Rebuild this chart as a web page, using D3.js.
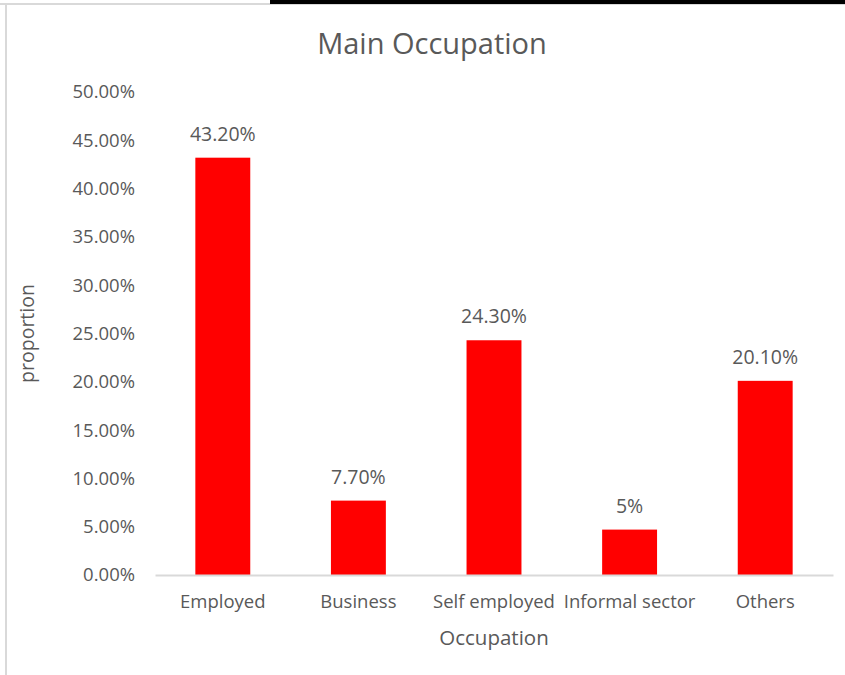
<!DOCTYPE html>
<html>
<head>
<meta charset="utf-8">
<script src="https://cdn.jsdelivr.net/npm/d3@7"></script>
<style>
  body { margin: 0; background: #fff; }
  text { font-family: "Open Sans", sans-serif; fill: #595959; }
</style>
</head>
<body>
<div id="chart"></div>
<script>
// chart data
const categories = ["Employed", "Business", "Self employed", "Informal sector", "Others"];
const values = [0.432, 0.077, 0.243, 0.047, 0.201];
const valueLabels = ["43.20%", "7.70%", "24.30%", "5%", "20.10%"];
const yTicks = [0, 0.05, 0.10, 0.15, 0.20, 0.25, 0.30, 0.35, 0.40, 0.45, 0.50];

const W = 845, H = 675;
const margin = {top: 92, right: 12, bottom: 100, left: 155};
const width = W - margin.left - margin.right,
      height = H - margin.top - margin.bottom;

const svg = d3.select("#chart").append("svg")
    .attr("width", W)
    .attr("height", H);

// frame bits from the screenshot
svg.append("rect").attr("x", 0).attr("y", 3).attr("width", W).attr("height", 2).attr("fill", "#d9d9d9");
svg.append("rect").attr("x", 270).attr("y", 0).attr("width", W - 270).attr("height", 4).attr("fill", "#000");
svg.append("rect").attr("x", 5).attr("y", 4).attr("width", 2).attr("height", H - 4).attr("fill", "#d9d9d9");

const g = svg.append("g")
    .attr("transform", `translate(${margin.left},${margin.top})`);

const x = d3.scaleBand()
    .domain(categories)
    .range([0, width])
    .paddingInner(0.595)
    .paddingOuter(0.2975);

const y = d3.scaleLinear()
    .domain([0, 0.5])
    .range([height, 0]);

// Y axis
const yAxis = g.append("g")
    .call(d3.axisLeft(y).tickValues(yTicks).tickSize(0).tickPadding(20)
        .tickFormat(d => (d * 100).toFixed(2) + "%"));
yAxis.select(".domain").remove();
yAxis.selectAll("text").style("font-size", "18.5px").attr("fill", "#595959");

// bars
g.selectAll(".bar")
    .data(values)
    .join("rect")
    .attr("class", "bar")
    .attr("x", (d, i) => x(categories[i]))
    .attr("y", d => y(d))
    .attr("width", x.bandwidth())
    .attr("height", d => height - y(d))
    .attr("fill", "#ff0000");

// X axis
const xAxis = g.append("g")
    .attr("transform", `translate(0,${height})`)
    .call(d3.axisBottom(x).tickSize(0).tickPadding(20));
xAxis.select(".domain").attr("stroke", "#d9d9d9").attr("stroke-width", 2);
xAxis.selectAll("text").style("font-size", "18.5px").attr("fill", "#595959");

// value labels
g.selectAll(".lbl")
    .data(values)
    .join("text")
    .attr("class", "lbl")
    .attr("x", (d, i) => x(categories[i]) + x.bandwidth() / 2)
    .attr("y", d => y(d) - 17)
    .attr("text-anchor", "middle")
    .style("font-size", "19.5px")
    .text((d, i) => valueLabels[i]);

// title
svg.append("text")
    .attr("x", 432)
    .attr("y", 54)
    .attr("text-anchor", "middle")
    .style("font-size", "29px")
    .text("Main Occupation");

// axis titles
g.append("text")
    .attr("x", width / 2)
    .attr("y", height + 70)
    .attr("text-anchor", "middle")
    .style("font-size", "20.5px")
    .text("Occupation");

g.append("text")
    .attr("transform", `translate(${27 - margin.left},${height / 2}) rotate(-90)`)
    .attr("dy", "0.35em")
    .attr("text-anchor", "middle")
    .style("font-size", "19.5px")
    .text("proportion");
</script>
</body>
</html>
